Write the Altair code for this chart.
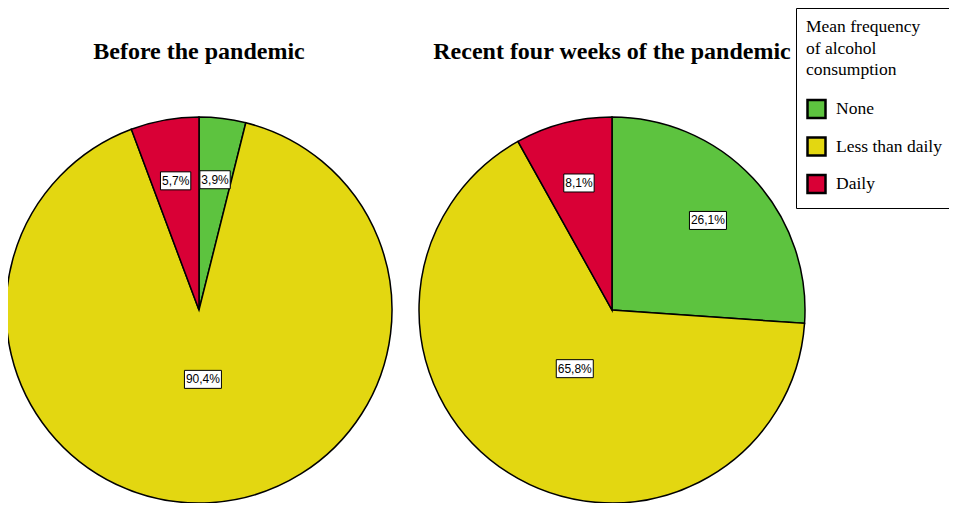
import altair as alt
import pandas as pd

# ---- data ----
pies = ["Before the pandemic", "Recent four weeks of the pandemic"]
categories = ["None", "Less than daily", "Daily"]
before_values = [3.9, 90.4, 5.7]
recent_values = [26.1, 65.8, 8.1]
colors = ["#5DC33F", "#E3D711", "#D90036"]
legend_title = ["Mean frequency", "of alcohol", "consumption"]

# ---- layout (pixels in the view) ----
CX = [191, 604]
CY = 302
R = 193
TITLE_Y = 51

rows = []
for pi, (pie, vals) in enumerate(zip(pies, [before_values, recent_values])):
    for ci, (cat, v) in enumerate(zip(categories, vals)):
        rows.append({
            "pie": pie, "pie_idx": pi, "category": cat, "cat_idx": ci,
            "value": v, "label": f"{v:.1f}".replace(".", ",") + "%",
        })
df = pd.DataFrame(rows)

base = (
    alt.Chart(df)
    .transform_joinaggregate(total="sum(value)", groupby=["pie"])
    .transform_window(cum="sum(value)", groupby=["pie"],
                      sort=[alt.SortField("cat_idx")], frame=[None, 0])
    .transform_calculate(t0="(datum.cum - datum.value) / datum.total * 2 * PI")
    .transform_calculate(t1="datum.cum / datum.total * 2 * PI")
    .transform_calculate(mid="(datum.t0 + datum.t1) / 2")
    .transform_calculate(cx=f"datum.pie_idx == 0 ? {CX[0]} : {CX[1]}")
    .transform_calculate(lr=f"datum.value / datum.total > 0.5 ? {0.36 * R} : {0.68 * R}")
    .transform_calculate(lx="datum.cx + datum.lr * sin(datum.mid)")
    .transform_calculate(ly=f"{CY} - datum.lr * cos(datum.mid)")
    .transform_calculate(hw="((length(datum.label) - 2) * 6.67 + 17) / 2")
    .transform_calculate(bx0="datum.lx - datum.hw", bx1="datum.lx + datum.hw",
                         by0="datum.ly - 9", by1="datum.ly + 9")
)

arcs = base.mark_arc(radius=R, stroke="black", strokeWidth=1.5).encode(
    x=alt.X("cx:Q", scale=None, stack=None),
    y=alt.value(CY),
    theta=alt.Theta("t0:Q", scale=None, stack=None),
    theta2="t1:Q",
    color=alt.Color(
        "category:N",
        scale=alt.Scale(domain=categories, range=colors),
        legend=alt.Legend(
            title=legend_title,
            orient="none", legendX=788, legendY=0,
            titleFont="Liberation Serif", titleFontSize=17.5, titleFontWeight="normal",
            titleColor="black", titleLineHeight=21.5, titlePadding=20,
            labelFont="Liberation Serif", labelFontSize=17.5, labelColor="black",
            labelOffset=9,
            symbolType="square", symbolSize=324, symbolStrokeColor="black",
            symbolStrokeWidth=2.5, symbolOpacity=1,
            rowPadding=8.5, padding=10,
            strokeColor="black", fillColor="white", cornerRadius=0,
        ),
    ),
)

boxes = base.mark_rect(fill="white", stroke="black", strokeWidth=1).encode(
    x=alt.X("bx0:Q", scale=None, stack=None), x2="bx1:Q",
    y=alt.Y("by0:Q", scale=None, stack=None), y2="by1:Q",
)

labels = base.mark_text(font="Liberation Sans", fontSize=12, color="black",
                        align="center", baseline="middle").encode(
    x=alt.X("lx:Q", scale=None, stack=None),
    y=alt.Y("ly:Q", scale=None, stack=None),
    text="label:N",
)

titles = (
    alt.Chart(pd.DataFrame({"pie": pies, "pie_idx": [0, 1]}))
    .transform_calculate(cx=f"datum.pie_idx == 0 ? {CX[0]} : {CX[1]}")
    .mark_text(font="Liberation Serif", fontSize=24, fontWeight="bold",
               color="black", align="center", baseline="alphabetic")
    .encode(x=alt.X("cx:Q", scale=None), y=alt.value(TITLE_Y), text="pie:N")
)

chart = (
    alt.layer(arcs, boxes, labels, titles)
    .properties(width=941, height=495, padding=0,
                autosize=alt.AutoSizeParams(type="none"))
    .configure_view(stroke=None)
)

chart.save("out.html", embed_options={"renderer": "svg", "actions": False})
